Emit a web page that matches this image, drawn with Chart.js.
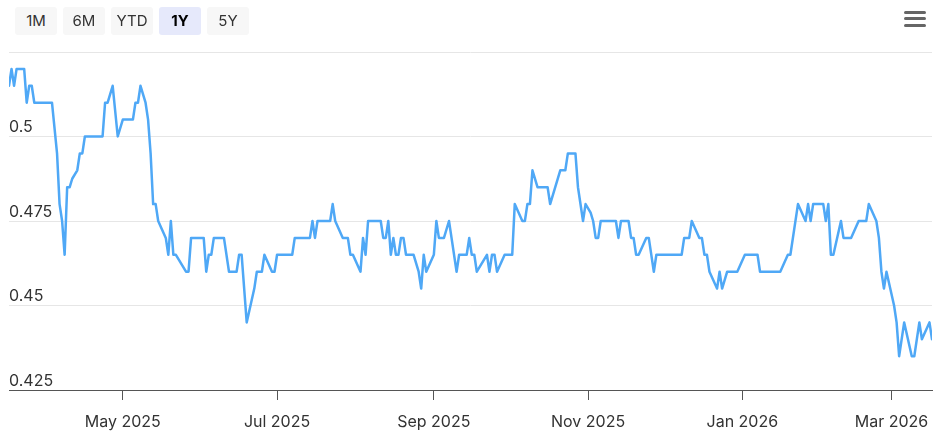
<!DOCTYPE html>
<html>
<head>
<meta charset="utf-8">
<script src="https://cdn.jsdelivr.net/npm/chart.js@4/dist/chart.umd.min.js"></script>
<style>
  body{margin:0;background:#fff;font-family:Inter,"Liberation Sans",sans-serif;}
  #wrap{position:relative;width:940px;height:435px;overflow:hidden;}
  #chart{position:absolute;left:0;top:0;}
  .range-btn{position:absolute;top:7px;height:28px;width:42px;line-height:28px;text-align:center;
    background:#f7f7f7;border-radius:3px;font-size:15px;color:#333;}
  .range-btn.active{background:#e6e9fb;font-weight:700;color:#000;}
  .menu{position:absolute;left:904px;width:22px;height:3px;border-radius:2px;background:#666;}
</style>
</head>
<body>
<div id="wrap">
  <canvas id="chart" width="940" height="435"></canvas>
  <div class="range-btn" style="left:15px">1M</div>
  <div class="range-btn" style="left:63px">6M</div>
  <div class="range-btn" style="left:111px">YTD</div>
  <div class="range-btn active" style="left:159px">1Y</div>
  <div class="range-btn" style="left:207px">5Y</div>
  <div class="menu" style="top:11px"></div>
  <div class="menu" style="top:17px"></div>
  <div class="menu" style="top:24px"></div>
</div>
<script>
// days since 2025-03-17 (start of the 1Y window)
var baseDate = '2025-03-17';
var days = [
  0,1,2,3,6,7,8,9,10,17,19,20,21,22,23,24,25,27,28,29,
  30,37,38,39,41,43,45,49,50,51,52,54,55,56,57,58,59,62,63,64,
  65,66,70,71,72,77,78,79,80,81,85,87,90,91,92,94,97,98,100,101,
  104,105,106,112,113,119,120,121,122,127,128,129,132,134,135,136,139,140,141,142,
  147,148,149,150,151,152,153,154,155,156,157,160,162,163,164,165,168,169,170,172,
  174,175,177,178,181,182,183,184,185,189,190,191,192,193,196,199,200,203,204,205,
  206,207,209,213,214,218,220,221,224,225,227,228,230,231,232,233,234,240,241,242,
  245,246,247,248,249,252,253,255,256,266,267,269,270,273,274,275,276,277,280,281,
  282,284,288,291,296,297,305,308,309,312,315,316,317,318,322,323,324,325,326,329,
  330,333,336,339,340,343,344,345,346,347,350,351,352,354,357,358,360,361,364,365
];
var values = [
  0.515,0.52,0.515,0.52,0.52,0.51,0.515,0.515,0.51,0.51,0.495,0.48,0.475,0.465,0.485,0.485,0.4875,0.49,0.495,0.495,
  0.5,0.5,0.51,0.51,0.515,0.5,0.505,0.505,0.51,0.51,0.515,0.51,0.505,0.495,0.48,0.48,0.475,0.47,0.465,0.475,
  0.465,0.465,0.46,0.46,0.47,0.47,0.46,0.465,0.465,0.47,0.47,0.46,0.46,0.465,0.465,0.445,0.455,0.46,0.46,0.465,
  0.46,0.46,0.465,0.465,0.47,0.47,0.475,0.47,0.475,0.475,0.48,0.475,0.47,0.47,0.465,0.465,0.46,0.47,0.465,0.475,
  0.475,0.47,0.47,0.475,0.465,0.47,0.465,0.465,0.47,0.47,0.465,0.465,0.46,0.455,0.465,0.46,0.465,0.475,0.47,0.47,
  0.475,0.47,0.46,0.465,0.465,0.47,0.465,0.465,0.46,0.465,0.46,0.465,0.465,0.46,0.465,0.465,0.48,0.475,0.475,0.48,
  0.48,0.49,0.485,0.485,0.48,0.49,0.49,0.495,0.495,0.485,0.475,0.48,0.4775,0.475,0.47,0.47,0.475,0.475,0.47,0.475,
  0.475,0.47,0.47,0.465,0.465,0.47,0.47,0.46,0.465,0.465,0.47,0.47,0.475,0.47,0.47,0.465,0.465,0.46,0.455,0.46,
  0.455,0.46,0.46,0.465,0.465,0.46,0.46,0.465,0.465,0.48,0.475,0.48,0.475,0.48,0.48,0.475,0.48,0.465,0.465,0.475,
  0.47,0.47,0.475,0.475,0.48,0.475,0.47,0.46,0.455,0.46,0.45,0.445,0.435,0.445,0.435,0.435,0.445,0.44,0.445,0.44
];
var monthTicks = ['2025-05-01','2025-07-01','2025-09-01','2025-11-01','2026-01-01','2026-03-01'];
var monthLabels = ['May 2025','Jul 2025','Sep 2025','Nov 2025','Jan 2026','Mar 2026'];
var yTicks = [0.425, 0.45, 0.475, 0.5, 0.525];
var yLabels = ['0.425', '0.45', '0.475', '0.5', ''];

function dayOf(s){
  var a = s.split('-'), b = baseDate.split('-');
  return (Date.UTC(+a[0], a[1]-1, +a[2]) - Date.UTC(+b[0], b[1]-1, +b[2])) / 86400000;
}
var tickDays = monthTicks.map(dayOf);
var points = days.map(function(d, i){ return {x: d, y: values[i]}; });

new Chart(document.getElementById('chart'), {
  type: 'line',
  data: {
    datasets: [{
      data: points,
      borderColor: '#4fa8f6',
      borderWidth: 2.5,
      borderJoinStyle: 'round',
      borderCapStyle: 'round',
      pointRadius: 0,
      tension: 0,
      fill: false
    }]
  },
  options: {
    responsive: false,
    animation: false,
    devicePixelRatio: 1,
    layout: { padding: { left: 9, right: 8, top: 52, bottom: 0 } },
    plugins: { legend: { display: false }, tooltip: { enabled: false } },
    scales: {
      x: {
        type: 'linear',
        min: 0,
        max: dayOf('2026-03-17'),
        afterBuildTicks: function(scale){
          scale.ticks = tickDays.map(function(v){ return {value: v}; });
        },
        afterFit: function(scale){
          scale.height = 45;
          scale.paddingLeft = 0;
          scale.paddingRight = 0;
        },
        ticks: {
          autoSkip: false,
          maxRotation: 0,
          padding: 14,
          color: '#333',
          font: { family: 'Inter', size: 16, lineHeight: 1 },
          callback: function(v, i){ return monthLabels[i]; }
        },
        grid: { drawOnChartArea: false, drawTicks: true, tickLength: 10, color: '#555', lineWidth: 1 },
        border: { display: true, color: '#555', width: 1 }
      },
      y: {
        min: 0.425,
        max: 0.525,
        afterBuildTicks: function(scale){
          scale.ticks = yTicks.map(function(v){ return {value: v}; });
        },
        ticks: {
          mirror: true,
          padding: 0,
          labelOffset: -9,
          color: '#333',
          font: { family: 'Inter', size: 16 },
          callback: function(v, i){ return yLabels[i]; }
        },
        grid: { drawTicks: false, color: '#e6e6e6', lineWidth: 1 },
        border: { display: false }
      }
    }
  }
});
</script>
</body>
</html>
